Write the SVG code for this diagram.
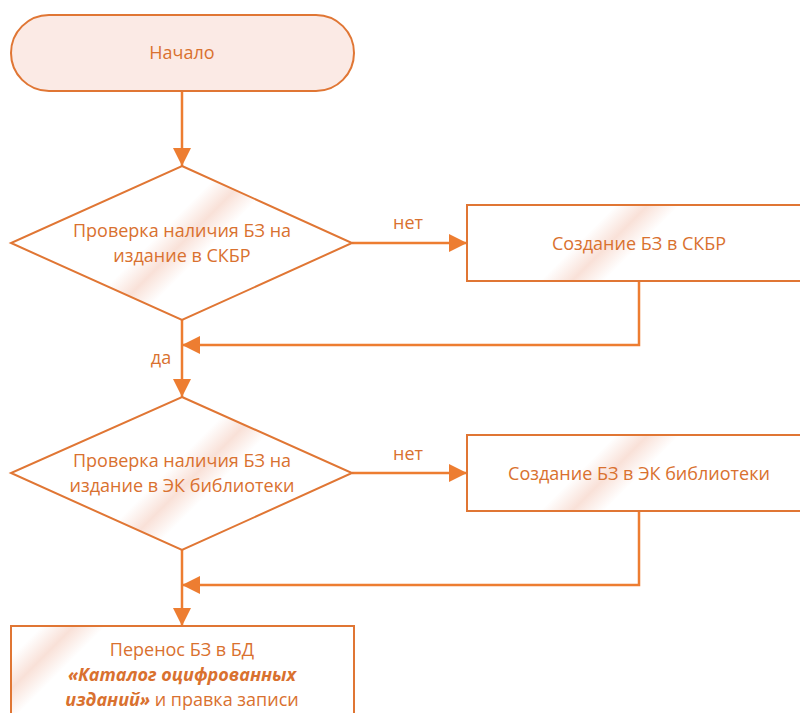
<svg xmlns="http://www.w3.org/2000/svg" width="800" height="713" viewBox="0 0 800 713">
<defs>
<linearGradient id="g" gradientUnits="userSpaceOnUse">
<stop offset="0" stop-color="#ffffff"/>
<stop offset="0.3" stop-color="#ffffff"/>
<stop offset="0.5" stop-color="#f9e1d8"/>
<stop offset="0.7" stop-color="#ffffff"/>
<stop offset="1" stop-color="#ffffff"/>
</linearGradient>
<linearGradient id="g1" href="#g" x1="142" y1="203" x2="222" y2="283"/>
<linearGradient id="g2" href="#g" x1="570" y1="203" x2="650" y2="283"/>
<linearGradient id="g3" href="#g" x1="145" y1="445" x2="225" y2="525"/>
<linearGradient id="g4" href="#g" x1="570" y1="433" x2="650" y2="513"/>
<linearGradient id="g5" href="#g" x1="0" y1="620" x2="80" y2="700"/>
<marker id="ab" viewBox="0 0 18 18" refX="18" refY="9" markerWidth="18" markerHeight="18" markerUnits="userSpaceOnUse" orient="auto">
<path d="M0,0 L18,9 L0,18 z" fill="#ed7d31"/>
</marker>
<style>
.s{stroke:#e07634;stroke-width:2;}
.t{font-family:"Open Sans","Liberation Sans",sans-serif;font-size:18px;fill:#d9712f;text-anchor:middle;}
.c{fill:none;stroke:#ed7d31;stroke-width:2.5;}
</style>
</defs>
<g id="connectors">
<path class="c" d="M182,91 V166" marker-end="url(#ab)"/>
<path class="c" d="M352,243 H467" marker-end="url(#ab)"/>
<path class="c" d="M639,281 V345 H182" marker-end="url(#ab)"/>
<path class="c" d="M182,320 V397" marker-end="url(#ab)"/>
<path class="c" d="M352,473 H467" marker-end="url(#ab)"/>
<path class="c" d="M639,511 V585 H182" marker-end="url(#ab)"/>
<path class="c" d="M182,550 V626" marker-end="url(#ab)"/>
<text class="t" x="408" y="229">нет</text>
<text class="t" x="408" y="460">нет</text>
<text class="t" x="161" y="364">да</text>
</g>
<g id="start">
<rect class="s" x="11" y="15" width="343" height="76" rx="38" fill="#fbeae5"/>
<text class="t" x="182" y="59">Начало</text>
</g>
<g id="check1">
<polygon class="s" points="182,166 352,243 182,320 11,243" fill="url(#g1)"/>
<text class="t" x="182" y="237">Проверка наличия БЗ на</text>
<text class="t" x="182" y="262">издание в СКБР</text>
</g>
<g id="create1">
<rect class="s" x="467" y="205" width="344" height="76" fill="url(#g2)"/>
<text class="t" x="639" y="250">Создание БЗ в СКБР</text>
</g>
<g id="check2">
<polygon class="s" points="182,397 352,473 182,550 11,473" fill="url(#g3)"/>
<text class="t" x="182" y="467">Проверка наличия БЗ на</text>
<text class="t" x="182" y="492">издание в ЭК библиотеки</text>
</g>
<g id="create2">
<rect class="s" x="467" y="435" width="344" height="76" fill="url(#g4)"/>
<text class="t" x="639" y="480">Создание БЗ в ЭК библиотеки</text>
</g>
<g id="transfer">
<rect class="s" x="11" y="626" width="343" height="100" fill="url(#g5)"/>
<text class="t" x="182" y="656">Перенос БЗ в БД</text>
<text class="t" x="182" y="681"><tspan font-weight="bold" font-style="italic">«Каталог оцифрованных</tspan></text>
<text class="t" x="182" y="706"><tspan font-weight="bold" font-style="italic">изданий»</tspan> и правка записи</text>
</g>
</svg>
